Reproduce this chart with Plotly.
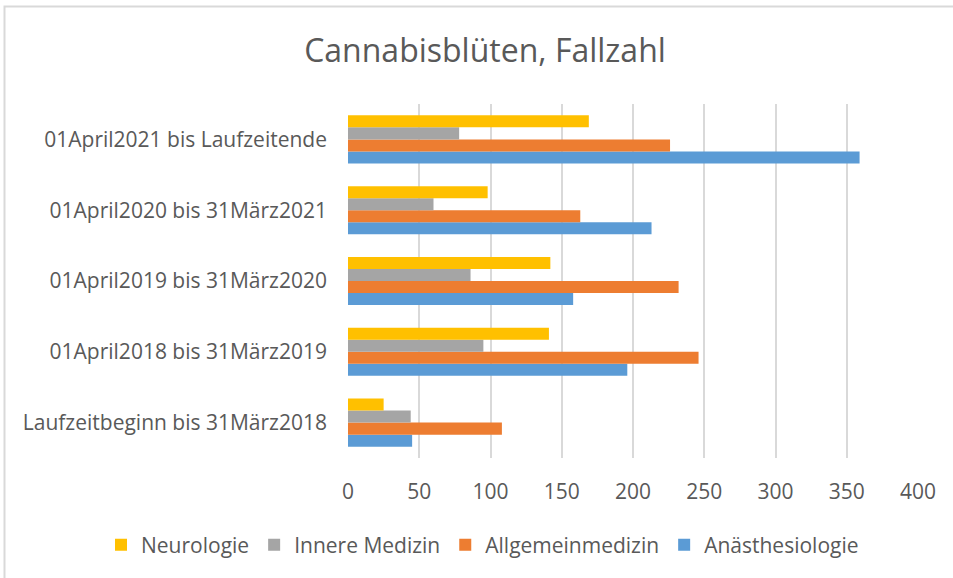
import plotly.graph_objects as go

categories = [
    "Laufzeitbeginn bis 31März2018",
    "01April2018 bis 31März2019",
    "01April2019 bis 31März2020",
    "01April2020 bis 31März2021",
    "01April2021 bis Laufzeitende",
]
anaesthesiologie = [45, 196, 158, 213, 359]
allgemeinmedizin = [108, 246, 232, 163, 226]
innere_medizin = [44, 95, 86, 60, 78]
neurologie = [25, 141, 142, 98, 169]

series = [
    ("Anästhesiologie", anaesthesiologie, "#5B9BD5"),
    ("Allgemeinmedizin", allgemeinmedizin, "#ED7D31"),
    ("Innere Medizin", innere_medizin, "#A5A5A5"),
    ("Neurologie", neurologie, "#FFC000"),
]

FONT = "'Open Sans', sans-serif"
TXT = "#595959"

fig = go.Figure()
for name, vals, col in series:
    fig.add_trace(go.Bar(
        y=categories, x=vals, name=name, orientation="h",
        marker=dict(color=col, line=dict(width=0)),
    ))

W, H = 953, 578
ml, mr, mt, mb = 348, 35, 104, 120
pw, ph = W - ml - mr, H - mt - mb

fig.update_layout(
    width=W, height=H,
    margin=dict(l=ml, r=mr, t=mt, b=mb, autoexpand=False),
    paper_bgcolor="white", plot_bgcolor="white",
    barmode="group", bargap=0.32, bargroupgap=0,
    font=dict(family=FONT, color=TXT, size=21),
    title=dict(text="Cannabisblüten, Fallzahl", x=485 / W, xanchor="center",
               xref="container", y=1 - 51 / H, yanchor="middle",
               font=dict(size=32, color=TXT, family=FONT)),
    xaxis=dict(range=[0, 400], dtick=50, showgrid=True, gridcolor="#D9D9D9",
               gridwidth=1.6, zeroline=False, showline=False, ticks="",
               tickfont=dict(size=21, color=TXT), ticklabelstandoff=19,
               automargin=False),
    yaxis=dict(showgrid=False, zeroline=False, showline=False, ticks="",
               tickfont=dict(size=21, color=TXT), ticklabelstandoff=20,
               automargin=False),
    legend=dict(orientation="h", x=(101 - ml) / pw, xanchor="left",
                y=-(545 - (H - mb)) / ph, yanchor="middle",
                traceorder="reversed", font=dict(size=21, color=TXT),
                itemwidth=30),
    showlegend=True,
)

# outer border (only top/left edges are inside the picture)
fig.add_shape(type="rect", xref="paper", yref="paper",
              x0=(4.5 - ml) / pw, x1=(W + 10 - ml) / pw,
              y0=-(mb + 10) / ph, y1=1 + (mt - 6.5) / ph,
              line=dict(color="#D9D9D9", width=2), layer="below")

fig.write_html("out.html", config={"displayModeBar": False})
with open("out.html", encoding="utf-8") as f:
    html = f.read()
html = html.replace("<head>", "<head><style>html,body{margin:0;padding:0;overflow:hidden;}</style>", 1)
with open("out.html", "w", encoding="utf-8") as f:
    f.write(html)
